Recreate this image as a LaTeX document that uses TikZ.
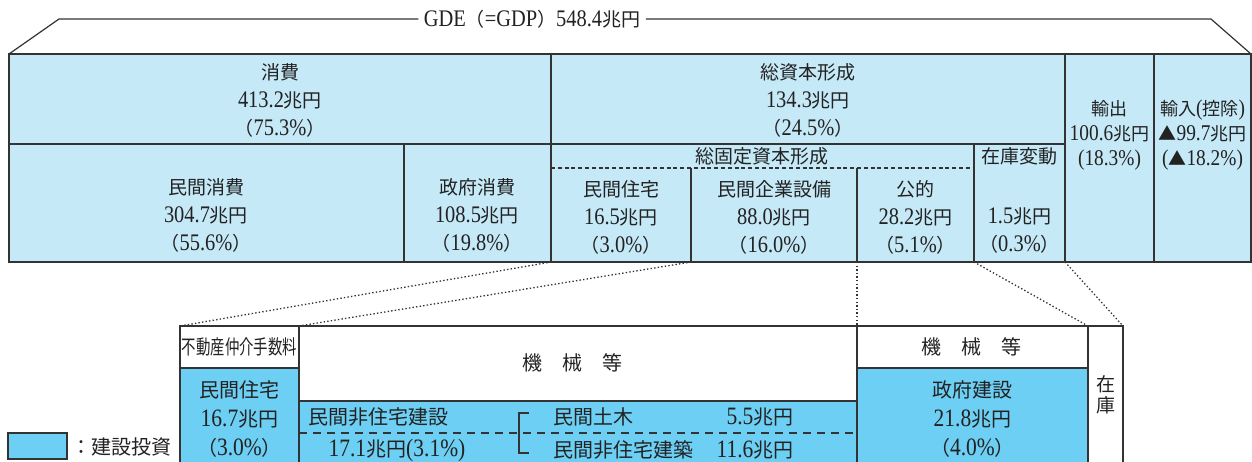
\documentclass[tikz,border=0pt]{standalone}
\usepackage{fontspec}
\setmainfont{Liberation Serif}[Scale=1.25,FakeStretch=0.86]
\newfontfamily\cjk{Noto Sans CJK JP}
\newcommand\J[1]{{\cjk #1}}
\newcommand\jcho{\J{兆円}}
\newcommand\jlp{\J{（}}
\newcommand\jrp{\J{）}}
\usetikzlibrary{fit}
\definecolor{lightb}{HTML}{C6E9F8}
\definecolor{constb}{HTML}{6CCFF3}
\definecolor{linec}{HTML}{333333}
\definecolor{textc}{HTML}{222222}
\begin{document}
\begin{tikzpicture}[x=0.5pt,y=-0.5pt,line width=0.6pt,
  cell/.style={draw=linec,fill=lightb,inner sep=0pt,outer sep=0pt},
  ccell/.style={draw=linec,fill=constb,inner sep=0pt,outer sep=0pt},
  wcell/.style={draw=linec,fill=white,inner sep=0pt,outer sep=0pt},
  ncell/.style={inner sep=0pt,outer sep=0pt},
  txt/.style={text=textc,align=center,inner sep=0pt,font=\fontsize{9.5}{14}\selectfont},
  btxt/.style={text=textc,align=center,inner sep=0pt,font=\fontsize{10}{14.5}\selectfont},
  thinln/.style={draw=linec,line width=0.6pt},
  dotln/.style={draw=linec,line width=0.65pt,dash pattern=on 0.7pt off 1.1pt},
  dashA/.style={draw=linec,line width=0.55pt,dash pattern=on 2pt off 1.4pt},
  dashB/.style={draw=linec,line width=0.8pt,dash pattern=on 4pt off 3pt}]
\useasboundingbox (0,0) rectangle (1252,461);
\begin{scope}
\clip (0,0) rectangle (1252,461);
% ---- top block cells
\node[cell,fit={(9,54)(551,144)}] (cons) {};
\node[cell,fit={(9,144)(404,262)}] (pcons) {};
\node[cell,fit={(404,144)(551,262)}] (gcons) {};
\node[cell,fit={(551,54)(1065,144)}] (gcf) {};
\node[cell,fit={(551,144)(974,262)}] (gfcf) {};
\node[ncell,fit={(551,168)(691,262)}] (house) {};
\node[ncell,fit={(691,168)(857,262)}] (biz) {};
\node[ncell,fit={(857,168)(974,262)}] (pub) {};
\node[cell,fit={(974,144)(1065,262)}] (inv) {};
\node[cell,fit={(1065,54)(1154,262)}] (exp) {};
\node[cell,fit={(1154,54)(1251,262)}] (imp) {};
\draw[dashA] (house.north west) -- (pub.north east);
\draw[thinln] (biz.north west) -- (biz.south west);
\draw[thinln] (biz.north east) -- (biz.south east);
% ---- GDE bracket
\node[txt,inner xsep=2.5pt] (gde) at (532,19) {GDE\jlp=GDP\jrp548.4\jcho};
\coordinate (tl) at (59,19);
\coordinate (tr) at (1211,19);
\draw[thinln] (cons.north west) -- (tl) -- (gde.west);
\draw[thinln] (gde.east) -- (tr) -- (imp.north east);
% ---- top texts
\node[txt] (tcons) at (280,100) {\J{消費}\\413.2\jcho\\\jlp75.3\%\jrp};
\node[txt] (tgcf) at (808,100) {\J{総資本形成}\\134.3\jcho\\\jlp24.5\%\jrp};
\node[txt,font=\fontsize{9}{12.5}\selectfont] (texp) at (1109.5,135) {\J{輸出}\\100.6\jcho\\(18.3\%)};
\node[txt,font=\fontsize{9}{12.5}\selectfont] (timp) at (1202.5,135) {\J{輸入}(\J{控除})\\\J{▲}99.7\jcho\\(\J{▲}18.2\%)};
\node[txt] (tpcons) at (206,215) {\J{民間消費}\\304.7\jcho\\\jlp55.6\%\jrp};
\node[txt] (tgcons) at (477,215) {\J{政府消費}\\108.5\jcho\\\jlp19.8\%\jrp};
\node[txt] (tgfcf) at (762,156) {\J{総固定資本形成}};
\node[txt] (tinv) at (1019.5,156) {\J{在庫変動}};
\node[txt] (thouse) at (621,217) {\J{民間住宅}\\16.5\jcho\\\jlp3.0\%\jrp};
\node[txt] (tbiz) at (774,217) {\J{民間企業設備}\\88.0\jcho\\\jlp16.0\%\jrp};
\node[txt] (tpub) at (915.5,217) {\J{公的}\\28.2\jcho\\\jlp5.1\%\jrp};
\node[txt] (tinv2) at (1019.5,231) {1.5\jcho\\\jlp0.3\%\jrp};
% ---- bottom boxes
\node[wcell,fit={(180,326)(299,368)}] (b1w) {};
\node[ccell,fit={(180,368)(299,478)}] (b1) {};
\node[wcell,fit={(299,326)(857,401)}] (b2w) {};
\node[ccell,fit={(299,401)(857,478)}] (b2) {};
\node[wcell,fit={(857,326)(1088,368)}] (b3w) {};
\node[ccell,fit={(857,368)(1088,478)}] (b3) {};
\node[wcell,fit={(1088,326)(1123,478)}] (b4) {};
\coordinate (dl) at (0,433);
\draw[dashB] (b2.west |- dl) -- (b2.east |- dl);
\draw[draw=linec,line width=0.9pt] (529,413) -- (519,413) -- (519,453) -- (529,453);
% ---- dotted connectors
\draw[dotln] (gcons.south east) -- (b1w.north west);
\draw[dotln] (house.south east) -- (b2w.north west);
\draw[dotln] (biz.south east) -- (b3w.north west);
\draw[dotln] (inv.south west) -- (b4.north west);
\draw[dotln] (inv.south east) -- (b4.north east);
% ---- bottom texts
\node[btxt] (tb1w) at (239.5,347) {\scalebox{0.72}[1]{\J{不動産仲介手数料}}};
\node[btxt] (tb1) at (239.5,419) {\J{民間住宅}\\16.7\jcho\\\jlp3.0\%\jrp};
\node[btxt] (tb2w) at (572,363) {\J{機\hspace{1em}械\hspace{1em}等}};
\node[btxt] (tb3w) at (971,347) {\J{機\hspace{1em}械\hspace{1em}等}};
\node[btxt] (tb3) at (972.5,419) {\J{政府建設}\\21.8\jcho\\\jlp4.0\%\jrp};
\node[btxt,font=\fontsize{9.5}{10.5}\selectfont] (tb4) at (1106,395) {\J{在}\\\J{庫}};
\node[btxt,anchor=west] (tnr) at (308,417) {\J{民間非住宅建設}};
\node[btxt,anchor=west] (tnr2) at (328,450) {17.1\jcho(3.1\%)};
\node[btxt,anchor=west] (tcv) at (553,417) {\J{民間土木}};
\node[btxt,anchor=east] (tcvv) at (794,417) {5.5\jcho};
\node[btxt,anchor=west] (tbl) at (553,450) {\J{民間非住宅建築}};
\node[btxt,anchor=east] (tblv) at (794,450) {11.6\jcho};
% ---- legend
\node[ccell,fit={(8,433)(67,459)}] (leg) {};
\node[btxt,anchor=west] (tleg) at (71,447) {\J{：建設投資}};
\end{scope}
\end{tikzpicture}
\end{document}
